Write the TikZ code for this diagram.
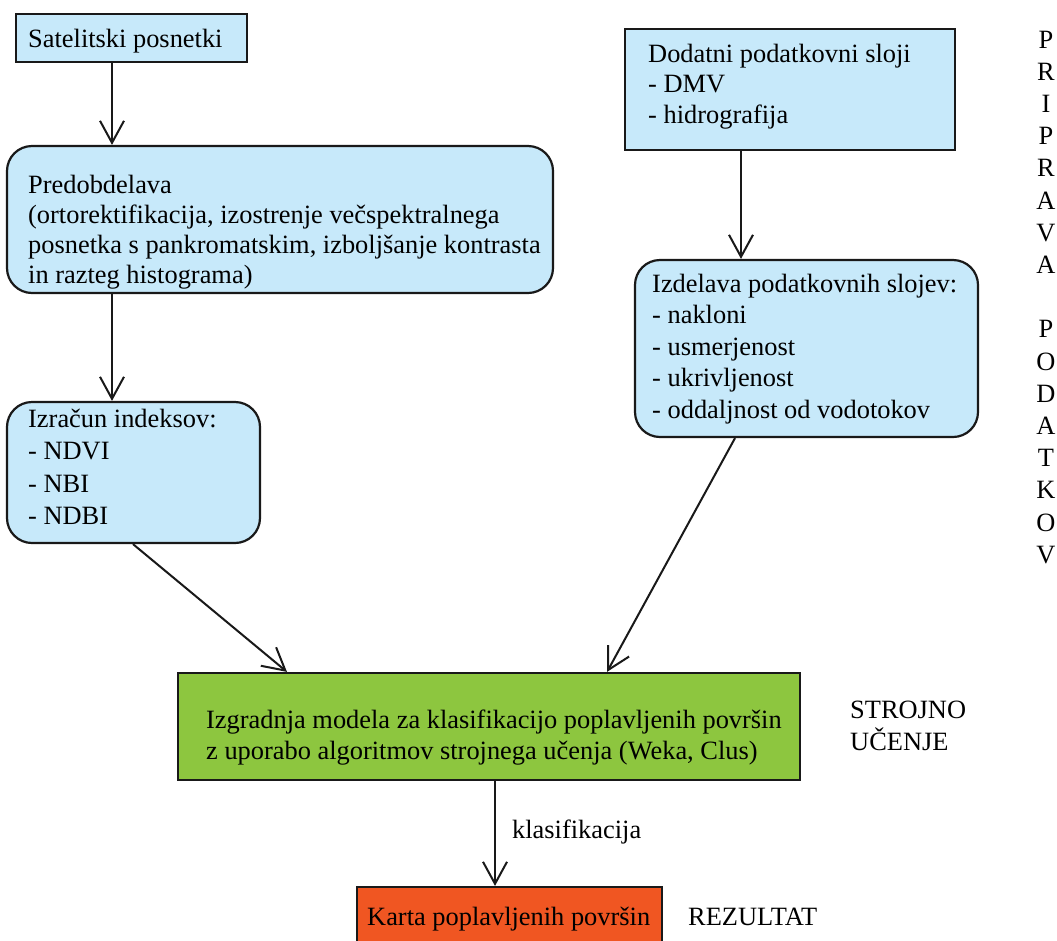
\documentclass[tikz,border=0pt]{standalone}
\usepackage{fontspec}
\setmainfont{Liberation Serif}
\usetikzlibrary{arrows.meta}
\definecolor{boxblue}{RGB}{199,233,250}
\definecolor{boxgreen}{RGB}{141,198,63}
\definecolor{boxred}{RGB}{240,86,34}
\definecolor{edgecol}{RGB}{25,25,25}
\newcommand{\mylines}[2]{\parbox[t]{#1}{\raggedright #2}}
\tikzset{
  panel/.style={draw=edgecol, line width=2.2pt, inner sep=0pt, rectangle},
  bluebox/.style={panel, fill=boxblue},
  roundbox/.style={bluebox, rounded corners=25pt},
  greenbox/.style={panel, fill=boxgreen},
  redbox/.style={panel, fill=boxred},
  txt/.style={inner sep=0pt, anchor=base west, font=\fontsize{26.4}{31.5}\selectfont},
  arr/.style={draw=edgecol, line width=2pt, -{Straight Barb[length=22pt, width=24pt, line width=2pt]}}
}
\begin{document}
\begin{tikzpicture}[x=1pt, y=-1pt]
\clip (0,0) rectangle (1057,940);
\fill[white] (0,0) rectangle (1057,940);

% boxes
\node[bluebox, minimum width=231pt, minimum height=48pt] (sat) at (131.5,38) {};
\node[roundbox, minimum width=546pt, minimum height=147pt] (pre) at (280,219.5) {};
\node[roundbox, minimum width=253pt, minimum height=141pt] (izr) at (133.5,472.5) {};
\node[bluebox, minimum width=330pt, minimum height=121pt] (dod) at (790,89.5) {};
\node[roundbox, minimum width=343pt, minimum height=177pt] (izd) at (806.5,348.5) {};
\node[greenbox, minimum width=622pt, minimum height=107pt] (grn) at (489,726.5) {};
\node[redbox, minimum width=305pt, minimum height=70pt] (red) at (509.5,922) {};

% texts
\node[txt] (tsat) at (28,47) {Satelitski posnetki};
\node[txt, font=\fontsize{26.4}{30}\selectfont] (tpre) at (28,193) {\mylines{540pt}{Predobdelava\\(ortorektifikacija, izostrenje večspektralnega\\posnetka s pankromatskim, izboljšanje kontrasta\\in razteg histograma)}};
\node[txt, font=\fontsize{26.4}{32.5}\selectfont] (tizr) at (28,427) {\mylines{240pt}{Izračun indeksov:\\- NDVI\\- NBI\\- NDBI}};
\node[txt, font=\fontsize{26.4}{30.5}\selectfont] (tdod) at (648,62) {\mylines{300pt}{Dodatni podatkovni sloji\\- DMV\\- hidrografija}};
\node[txt, font=\fontsize{26.4}{31.5}\selectfont] (tizd) at (652,292) {\mylines{320pt}{Izdelava podatkovnih slojev:\\- nakloni\\- usmerjenost\\- ukrivljenost\\- oddaljnost od vodotokov}};
\node[txt, font=\fontsize{26.4}{31}\selectfont] (tgrn) at (206,728) {\mylines{600pt}{Izgradnja modela za klasifikacijo poplavljenih površin\\z uporabo algoritmov strojnega učenja (Weka, Clus)}};
\node[txt] (tred) at (367,925) {Karta poplavljenih površin};

% side labels
\node[txt, font=\fontsize{26.4}{32}\selectfont] (strojno) at (850,718) {\mylines{200pt}{STROJNO\\UČENJE}};
\node[txt] (rezultat) at (688,925) {REZULTAT};
\node[inner sep=0pt, anchor=base, font=\fontsize{26.4}{32.2}\selectfont] (pripr) at (1046,48) {\parbox[t]{20pt}{\centering P\\R\\I\\P\\R\\A\\V\\A\\[32.2pt]P\\O\\D\\A\\T\\K\\O\\V}};

% arrow positions
\coordinate (xa) at (112,0);
\coordinate (xb) at (741,0);
\coordinate (xc) at (133,0);
\coordinate (xd) at (287,0);
\coordinate (xe) at (735,0);
\coordinate (xf) at (607,0);
\coordinate (xg) at (495,0);

\draw[arr] (sat.south -| xa) -- (pre.north -| xa);
\draw[arr] (pre.south -| xa) -- (izr.north -| xa);
\draw[arr] (dod.south -| xb) -- (izd.north -| xb);
\draw[arr] (izr.south -| xc) -- (grn.north -| xd);
\draw[arr] (izd.south -| xe) -- (grn.north -| xf);
\draw[arr] (grn.south -| xg) -- (red.north -| xg);
\node[txt] (klas) at (512,838) {klasifikacija};
\end{tikzpicture}
\end{document}
